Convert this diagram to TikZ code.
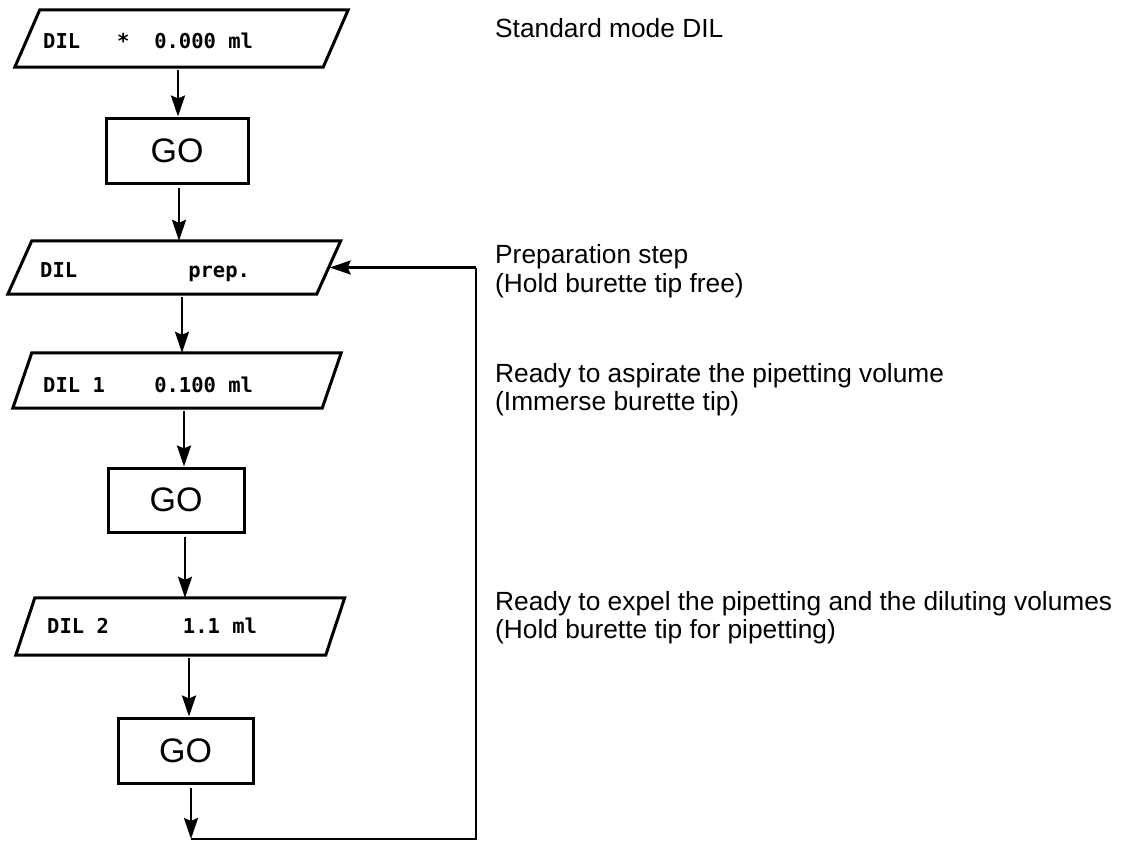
\documentclass[tikz,border=0pt]{standalone}
\usepackage{fontspec}
\setmainfont{Liberation Sans}
\newfontfamily\monofnt{DejaVu Sans Mono}
\usetikzlibrary{arrows.meta}
\tikzset{
  line/.style={line width=2.7pt},
  arr/.style={line width=2.6pt,-{Stealth[length=21pt,width=14pt,inset=3pt]},shorten <=3pt},
  paranode/.style={inner sep=0pt,draw=none},
  gobox/.style={draw,line width=3pt,inner sep=0pt,font=\fontsize{34}{36}\selectfont},
  disp/.style={anchor=base west,inner sep=0pt,font=\monofnt\bfseries\fontsize{20.5}{22}\selectfont},
  note/.style={anchor=base west,inner sep=0pt,font=\fontsize{26.3}{29}\selectfont},
}
\newcommand{\drawpara}[2]{%
  \draw[line width=3pt,line join=miter]
    ([xshift=-#2]#1.south west) -- ([xshift=#2]#1.north west) --
    ([xshift=#2]#1.north east) -- ([xshift=-#2]#1.south east) -- cycle;}
\begin{document}
\begin{tikzpicture}[x=1pt,y=-1pt]
\useasboundingbox (0,0) rectangle (1137,841);

% parallelograms (display states)
\node[paranode,minimum width=308pt,minimum height=57pt] (p1) at (181.5,38.5) {};
\drawpara{p1}{12.5pt}
\node[paranode,minimum width=308.5pt,minimum height=53pt] (p2) at (174.25,267.5) {};
\drawpara{p2}{12pt}
\node[paranode,minimum width=309pt,minimum height=55pt] (p3) at (177,380.5) {};
\drawpara{p3}{9.5pt}
\node[paranode,minimum width=309.5pt,minimum height=57pt] (p4) at (180.25,626.5) {};
\drawpara{p4}{9.5pt}

% display texts
\node[disp] (t1) at (43,48) {DIL~~~*~~0.000~ml};
\node[disp] (t2) at (40,277) {DIL~~~~~~~~~prep.};
\node[disp] (t3) at (43,392) {DIL~1~~~~0.100~ml};
\node[disp] (t4) at (47,633) {DIL~2~~~~~~1.1~ml};

% GO keys
\node[gobox,minimum width=142pt,minimum height=65pt] (go1) at (177,150.5) {GO};
\node[gobox,minimum width=136pt,minimum height=64pt] (go2) at (176,500) {GO};
\node[gobox,minimum width=135pt,minimum height=65pt] (go3) at (185.5,750.5) {GO};

% loop corners
\coordinate (c1) at (191,839);
\coordinate (c2) at (476,839);

% connectors
\draw[arr] (p1.south -| 178,0) -- (go1.north -| 178,0);
\draw[arr] (go1.south -| 179,0) -- (p2.north -| 179,0);
\draw[arr] (p2.south -| 182,0) -- (p3.north -| 182,0);
\draw[arr] (p3.south -| 184,0) -- (go2.north -| 184,0);
\draw[arr] (go2.south -| 185,0) -- (p4.north -| 185,0);
\draw[arr] (p4.south -| 189,0) -- (go3.north -| 189,0);
\draw[arr] (go3.south -| c1) -- (c1);
\draw[line,line join=miter] (c1) -- (c2) -- (c2 |- p2.east);
\draw[arr,shorten <=0pt] (c2 |- p2.east) -- ([xshift=1pt]p2.east);

% notes
\node[note] (n1) at (495,37) {Standard mode DIL};
\node[note] (n2a) at (495,263) {Preparation step};
\node[note] (n2b) at (495,292) {(Hold burette tip free)};
\node[note] (n3a) at (495,382) {Ready to aspirate the pipetting volume};
\node[note] (n3b) at (495,410) {(Immerse burette tip)};
\node[note] (n4a) at (495,610) {Ready to expel the pipetting and the diluting volumes};
\node[note] (n4b) at (495,638) {(Hold burette tip for pipetting)};
\end{tikzpicture}
\end{document}
